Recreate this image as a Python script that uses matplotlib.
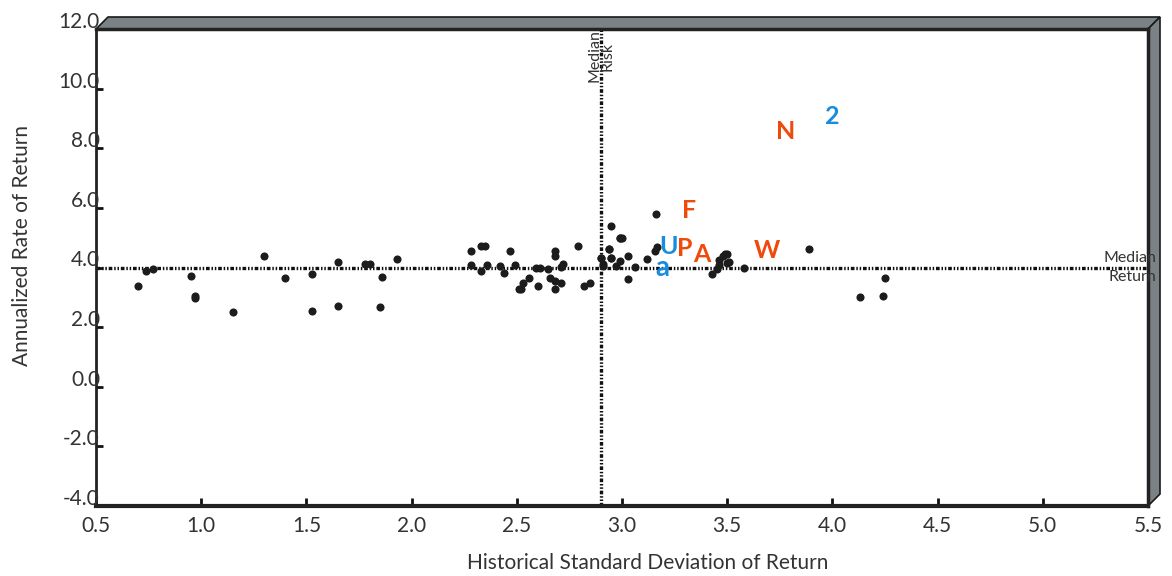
import matplotlib
matplotlib.use("Agg")
import matplotlib.pyplot as plt
from matplotlib.patches import Polygon
from matplotlib.transforms import ScaledTranslation

plt.rcParams['font.family'] = ['Lato', 'DejaVu Sans']

# Peer funds (black dots): risk (std dev) and return
peer_risk = [0.70, 0.74, 0.77, 0.95, 0.97, 0.97, 1.15, 1.30, 1.40, 1.525, 1.525,
             1.65, 1.65, 1.78, 1.80, 1.86, 1.85, 1.93,
             2.28, 2.33, 2.35, 2.28, 2.33, 2.36, 2.42, 2.44, 2.47, 2.49, 2.51, 2.52,
             2.53, 2.56, 2.59, 2.61, 2.60, 2.65, 2.66, 2.68, 2.68, 2.68, 2.68, 2.71,
             2.72, 2.71, 2.79, 2.82, 2.85, 2.90, 2.91, 2.94, 2.95, 2.99,
             2.95, 2.99, 3.00, 2.94, 2.95, 2.99, 3.03, 2.97, 2.90, 2.91, 3.06, 3.03,
             3.12, 3.155, 3.165, 3.16,
             3.43, 3.45, 3.46, 3.46, 3.48, 3.49, 3.50, 3.51, 3.50, 3.58,
             3.89, 4.25, 4.13, 4.24]
peer_return = [3.39, 3.88, 3.95, 3.72, 3.05, 2.98, 2.50, 4.39, 3.66, 3.77, 2.55,
               4.17, 2.72, 4.12, 4.12, 3.67, 2.66, 4.27,
               4.55, 4.72, 4.72, 4.07, 3.89, 4.07, 4.06, 3.82, 4.55, 4.07, 3.27, 3.29,
               3.49, 3.66, 4.00, 4.00, 3.39, 3.94, 3.66, 4.55, 4.39, 3.55, 3.27, 3.49,
               4.11, 4.03, 4.72, 3.38, 3.49, 4.33, 4.11, 4.61, 4.33, 4.98,
               5.39, 5.00, 5.00, 4.61, 4.33, 4.22, 4.39, 4.05, 4.33, 4.05, 4.02, 3.60,
               4.27, 4.55, 4.68, 5.78,
               3.77, 3.94, 4.10, 4.25, 4.40, 4.45, 4.45, 4.20, 4.16, 3.99,
               4.61, 3.66, 3.00, 3.05]

# Highlighted funds (letters)
fund_labels = ['F', 'N', '2', 'U', 'P', 'A', 'W', 'a']
fund_risk = [3.32, 3.78, 4.00, 3.22, 3.30, 3.38, 3.69, 3.19]
fund_return = [5.90, 8.55, 9.05, 4.70, 4.65, 4.45, 4.57, 4.00]
fund_colors = ['#EE4A0C', '#EE4A0C', '#1A8CDF', '#1A8CDF', '#EE4A0C', '#EE4A0C', '#EE4A0C', '#1A8CDF']

median_risk = 2.9
median_return = 4.0

x_ticks = [0.5, 1.0, 1.5, 2.0, 2.5, 3.0, 3.5, 4.0, 4.5, 5.0, 5.5]
y_ticks = [-4.0, -2.0, 0.0, 2.0, 4.0, 6.0, 8.0, 10.0, 12.0]
xmin, xmax, ymin, ymax = 0.5, 5.5, -4.0, 12.0

fig = plt.figure(figsize=(11.72, 5.76), dpi=100)
ax = fig.add_axes([96/1172, 1-506/576, (1148-96)/1172, (506-29)/576])
ax.set_xlim(xmin, xmax)
ax.set_ylim(ymin, ymax)

# median lines
dash = (1.1, 0.55, 0.45, 0.55, 0.45, 0.55)
ax.plot([median_risk, median_risk], [ymin, ymax], color='#111111', lw=2.4,
        dashes=dash, zorder=2)
ax.plot([xmin, xmax], [median_return, median_return], color='#111111', lw=2.4,
        dashes=dash, zorder=2)

ax.scatter(peer_risk, peer_return, s=34, color='#1c1c1c', zorder=3, linewidths=0)

for lab, xr, yr, c in zip(fund_labels, fund_risk, fund_return, fund_colors):
    ax.text(xr, yr, lab, color=c, fontsize=18 if lab != 'a' else 20, fontweight='bold',
            ha='center', va='center', zorder=4)

# Median labels
ax.text(median_risk, ymax - 0.02, 'Median\nRisk', rotation=90, ha='center', va='top',
        fontsize=11.5, color='#333333', linespacing=0.85, zorder=5)
ax.text(1.0075, (median_return - ymin) / (ymax - ymin), 'Median\nReturn',
        transform=ax.transAxes, ha='right', va='center', fontsize=11.5,
        color='#333333', linespacing=1.45, zorder=9)

# Axes styling
for s in ['top', 'right']:
    ax.spines[s].set_visible(False)
ax.spines['left'].set_linewidth(2)
ax.spines['left'].set_color('#222222')
ax.spines['bottom'].set_linewidth(3)
ax.spines['bottom'].set_color('#222222')

ax.set_xticks(x_ticks)
ax.set_yticks(y_ticks)
ax.set_xticklabels([f'{v:.1f}' for v in x_ticks])
ax.set_yticklabels([])
ax.tick_params(axis='x', direction='in', length=6, width=2, color='#111111',
               labelsize=15, labelcolor='#333333', pad=7)
ax.tick_params(axis='y', direction='in', length=5, width=2, color='#111111')
ylab_tr = ax.get_yaxis_transform() + ScaledTranslation(4/100, 7/100, fig.dpi_scale_trans)
for v in y_ticks:
    ax.text(0, v, f'{v:.1f}', transform=ylab_tr,
            ha='right', va='center', fontsize=15, color='#333333', clip_on=False)

# 3D frame (top and right bands)
dx = 12 / 210.4
dy = 12 / 29.81
band = '#7A8286'
top_band = Polygon([(xmin, ymax), (xmin + dx, ymax + dy), (xmax + dx, ymax + dy), (xmax, ymax)],
                   closed=True, facecolor=band, edgecolor='#1a1a1a', lw=1.2,
                   clip_on=False, zorder=7)
right_band = Polygon([(xmax, ymax), (xmax + dx, ymax + dy), (xmax + dx, ymin + dy), (xmax, ymin)],
                     closed=True, facecolor=band, edgecolor='#1a1a1a', lw=1.2,
                     clip_on=False, zorder=7)
ax.add_patch(top_band)
ax.add_patch(right_band)
ax.plot([xmin, xmax], [ymax, ymax], color='#222222', lw=2.5, clip_on=False, zorder=8)
ax.plot([xmax, xmax], [ymin, ymax], color='#222222', lw=2.5, clip_on=False, zorder=8)

fig.text(22/1172, 1-245/576, 'Annualized Rate of Return', rotation=90,
         ha='center', va='center', fontsize=15, color='#333333')
fig.text(648/1172, 1-563/576, 'Historical Standard Deviation of Return',
         ha='center', va='center', fontsize=15, color='#333333')

fig.savefig('out.png', dpi=100)
